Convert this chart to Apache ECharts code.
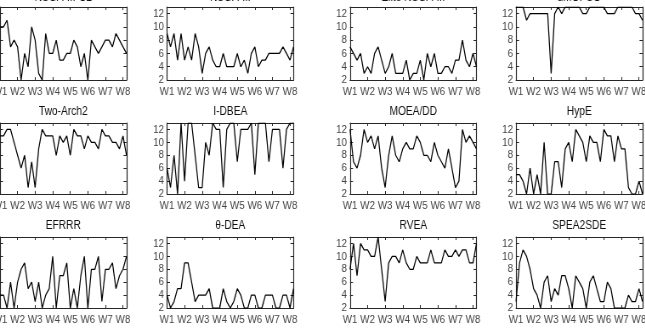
<!DOCTYPE html>
<html>
<head>
<meta charset="utf-8">
<script src="https://cdn.jsdelivr.net/npm/echarts@6/dist/echarts.min.js"></script>
<style>
  html, body { margin: 0; padding: 0; background: #fff; overflow: hidden; }
  #chart { height: 329px; transform-origin: 0 0; }
</style>
</head>
<body>
<div id="chart"></div>
<script>
// week tick labels, 5 samples per week, 37 samples per run
const weeks = ['W1', 'W2', 'W3', 'W4', 'W5', 'W6', 'W7', 'W8'];
const perWeek = 5;
const lastIndex = 36;

const titles = ['NSGA-III-C2', 'NSGA-III', 'Elite NSGA-III', 'dMOPSO',
                'Two-Arch2', 'I-DBEA', 'MOEA/DD', 'HypE',
                'EFRRR', 'θ-DEA', 'RVEA', 'SPEA2SDE'];

const nsga3c2  = [10,10,11,7,8,7,2,6,4,10,8,3,2,9,6,6,8,5,5,6,6,8,7,4,6,2,8,7,6,7,8,8,7,9,8,7,6];
const nsga3    = [9,7,9,5,9,5,7,5,9,7,3,6,7,5,4,4,6,4,4,4,6,4,5,3,6,7,4,5,5,6,6,6,6,7,6,5,7];
const eliteNsga3 = [7,6,5,6,3,4,3,6,7,5,3,4,6,3,3,3,5,2,3,3,5,2,6,4,6,3,3,4,4,3,5,5,8,5,4,6,4];
const dmopso   = [13,13,13,11,12,12,12,12,12,12,3,12,13,12,13,13,13,13,13,12,12,13,13,13,13,13,12,12,12,13,13,13,13,13,12,12,11];
const twoArch2 = [11,11,12,12,10,8,6,8,3,7,3,9,12,11,11,11,8,11,10,11,8,12,11,11,9,11,10,10,9,12,11,11,10,10,9,11,8];
const idbea    = [6,3,8,2,13,4,13,13,8,3,3,10,8,13,12,12,3,12,13,13,7,12,12,12,13,5,13,13,13,7,12,12,12,6,12,13,13];
const moeadd   = [12,7,6,8,12,10,11,9,11,6,3,8,11,8,7,9,10,9,9,11,10,8,8,7,10,8,7,6,9,6,3,4,12,10,11,10,9];
const hype     = [5,5,4,2,6,2,5,2,10,2,2,7,7,3,9,10,7,12,11,10,7,11,10,10,7,12,11,11,7,11,9,9,3,2,2,4,2];
const efrrr    = [4,4,2,6,2,6,8,9,5,6,3,6,2,4,5,10,2,7,7,9,2,5,2,7,10,2,8,8,10,3,8,8,9,5,7,8,10];
const thetaDea = [4,2,3,5,5,9,9,6,3,4,4,4,5,2,2,2,5,3,2,3,5,4,2,2,4,4,2,2,4,4,4,2,2,4,4,2,5];
const rvea     = [8,12,7,12,11,11,10,10,13,8,3,9,10,10,9,11,9,8,8,10,9,9,9,11,9,9,9,11,10,10,11,10,11,11,9,9,12];
const spea2sde = [3,9,11,10,8,5,4,2,6,7,3,5,4,7,7,5,2,7,6,5,2,6,7,5,3,3,6,5,2,2,2,2,4,3,3,5,3];

const runs = [nsga3c2, nsga3, eliteNsga3, dmopso, twoArch2, idbea, moeadd, hype, efrrr, thetaDea, rvea, spea2sde];

// the source figure is horizontally condensed; draw wider and squeeze with css
const squeeze = 0.85;
const el = document.getElementById('chart');
el.style.width = (645 / squeeze) + 'px';
el.style.transform = 'scaleX(' + squeeze + ')';

// layout of the 3x4 panel grid, in final px
const colLeft = [0, 167, 350, 516];
const rowTop = [7, 123, 237];
const rowH = [73, 71, 71];
const titleY = [-2, 112, 226];
const boxW = 126.5;
const sx = v => v / squeeze;

const font = '"Liberation Sans", Arial, sans-serif';
const axisColor = '#262626';

const chart = echarts.init(el, null, { renderer: 'canvas' });

const grid = [], xAxis = [], yAxis = [], series = [], title = [];

runs.forEach((vals, i) => {
  const r = Math.floor(i / 4), c = i % 4;
  grid.push({ left: sx(colLeft[c]), top: rowTop[r], width: sx(boxW), height: rowH[r], outerBoundsMode: 'none', containLabel: false });

  title.push({
    text: titles[i],
    left: sx(colLeft[c] + boxW / 2),
    top: titleY[r],
    padding: 0,
    textAlign: 'center',
    textVerticalAlign: 'middle',
    textStyle: { fontFamily: font, fontSize: 12, fontWeight: 'normal', color: '#111' }
  });

  const xBase = {
    gridIndex: i, type: 'value', min: 0, max: lastIndex, interval: perWeek,
    axisLine: { show: true, onZero: false, lineStyle: { color: axisColor, width: 1 } },
    axisTick: { show: true, inside: true, length: 3, lineStyle: { color: axisColor } },
    splitLine: { show: false }
  };
  xAxis.push(Object.assign({}, xBase, {
    position: 'bottom',
    axisLabel: {
      margin: 6, fontSize: 11.5, color: '#444', fontFamily: font, hideOverlap: false,
      formatter: v => (v % perWeek === 0 ? weeks[v / perWeek] : '')
    }
  }));
  xAxis.push(Object.assign({}, xBase, { position: 'top', axisLabel: { show: false } }));

  const yBase = {
    gridIndex: i, type: 'value', min: 2, max: 13, interval: 2,
    axisLine: { show: true, onZero: false, lineStyle: { color: axisColor, width: 1.15 } },
    axisTick: { show: true, inside: true, length: sx(3), lineStyle: { color: axisColor } },
    splitLine: { show: false }
  };
  yAxis.push(Object.assign({}, yBase, {
    position: 'left',
    axisLabel: { margin: sx(3), fontSize: 11.5, color: '#444', fontFamily: font, showMaxLabel: false }
  }));
  yAxis.push(Object.assign({}, yBase, { position: 'right', axisLabel: { show: false } }));

  series.push({
    type: 'line',
    xAxisIndex: 2 * i,
    yAxisIndex: 2 * i,
    data: vals.map((v, d) => [d, v]),
    showSymbol: false,
    lineStyle: { color: '#000', width: 1.25 },
    silent: true
  });
});

chart.setOption({
  animation: false,
  backgroundColor: '#fff',
  title, grid, xAxis, yAxis, series
});
</script>
</body>
</html>
